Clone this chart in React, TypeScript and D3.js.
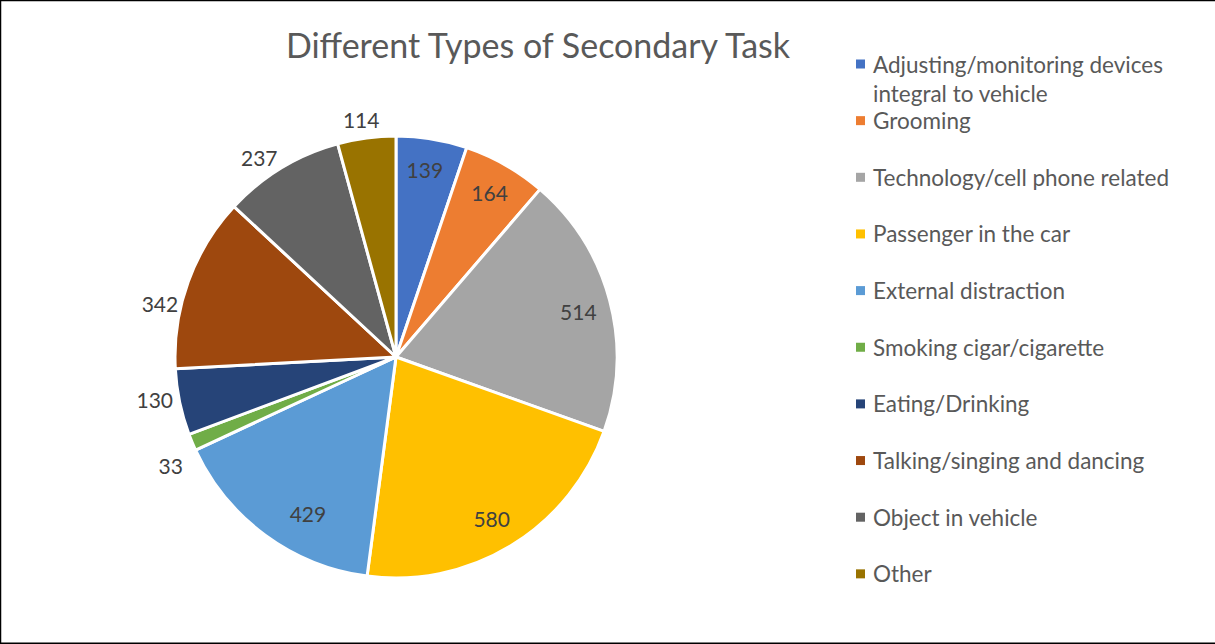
import React from "react";
import * as d3 from "d3";

const categories = [
  "Adjusting/monitoring devices integral to vehicle",
  "Grooming",
  "Technology/cell phone related",
  "Passenger in the car",
  "External distraction",
  "Smoking cigar/cigarette",
  "Eating/Drinking",
  "Talking/singing and dancing",
  "Object in vehicle",
  "Other",
];
const values = [139, 164, 514, 580, 429, 33, 130, 342, 237, 114];
const colors = [
  "#4472C4", "#ED7D31", "#A5A5A5", "#FFC000", "#5B9BD5",
  "#70AD47", "#264478", "#9E480E", "#636363", "#997300",
];
// label placement (styling): radius in px and angle nudge in degrees
const labelRadius = [190, 189, 188, 188, 180, 250, 245, 242, 242, 240];
const labelNudge = [-0.6, 0, 0.8, 0.8, -7, -3, 1.7, -7.2, -3.2, -0.7];

const W = 1215, H = 644;
const cx = 396, cy = 357, R = 221;
const FONT = "Lato, 'Open Sans', sans-serif";

export default function App() {
  const pie = d3.pie<number>().sort(null).value((d) => d);
  const arcs = pie(values);
  const arcGen = d3.arc<d3.PieArcDatum<number>>().innerRadius(0).outerRadius(R);

  const legendX = 856;
  const legendY0 = 64;
  const legendStep = 56.65;
  const legendSize = 22.5;

  return (
    <svg width={W} height={H} style={{ position: "fixed", left: 0, top: 0, background: "#fff" }}>
      <rect x={0} y={0} width={W} height={H} fill="#fff" />
      <line x1={0} y1={0.5} x2={W} y2={0.5} stroke="#000" strokeWidth={1.5} />
      <line x1={0.5} y1={0} x2={0.5} y2={H} stroke="#000" strokeWidth={1.5} />
      <line x1={0} y1={H - 0.75} x2={W} y2={H - 0.75} stroke="#000" strokeWidth={1.5} />

      <text x={538} y={44} textAnchor="middle" dominantBaseline="central"
        fontFamily={FONT} fontSize={34} fill="#595959">
        Different Types of Secondary Task
      </text>

      <g transform={`translate(${cx},${cy})`}>
        {arcs.map((a, i) => (
          <path key={i} d={arcGen(a) || ""} fill={colors[i]} stroke="#fff" strokeWidth={3} strokeLinejoin="round" />
        ))}
        {arcs.map((a, i) => {
          const mid = (a.startAngle + a.endAngle) / 2 + (labelNudge[i] * Math.PI) / 180;
          const r = labelRadius[i];
          const x = r * Math.sin(mid);
          const y = -r * Math.cos(mid);
          return (
            <text key={"l" + i} x={x} y={y} textAnchor="middle" dominantBaseline="central"
              fontFamily={FONT} fontSize={21} fill="#404040">
              {values[i]}
            </text>
          );
        })}
      </g>

      <g>
        {categories.map((c, i) => {
          const yc = legendY0 + i * legendStep;
          const lines = i === 0 ? ["Adjusting/monitoring devices", "integral to vehicle"] : [c];
          return (
            <g key={"lg" + i}>
              <rect x={legendX} y={yc - 4.5} width={9} height={9} fill={colors[i]} />
              {lines.map((ln, j) => (
                <text key={j} x={873} y={yc + j * 29} dominantBaseline="central"
                  fontFamily={FONT} fontSize={legendSize} fill="#595959">
                  {ln}
                </text>
              ))}
            </g>
          );
        })}
      </g>
    </svg>
  );
}
